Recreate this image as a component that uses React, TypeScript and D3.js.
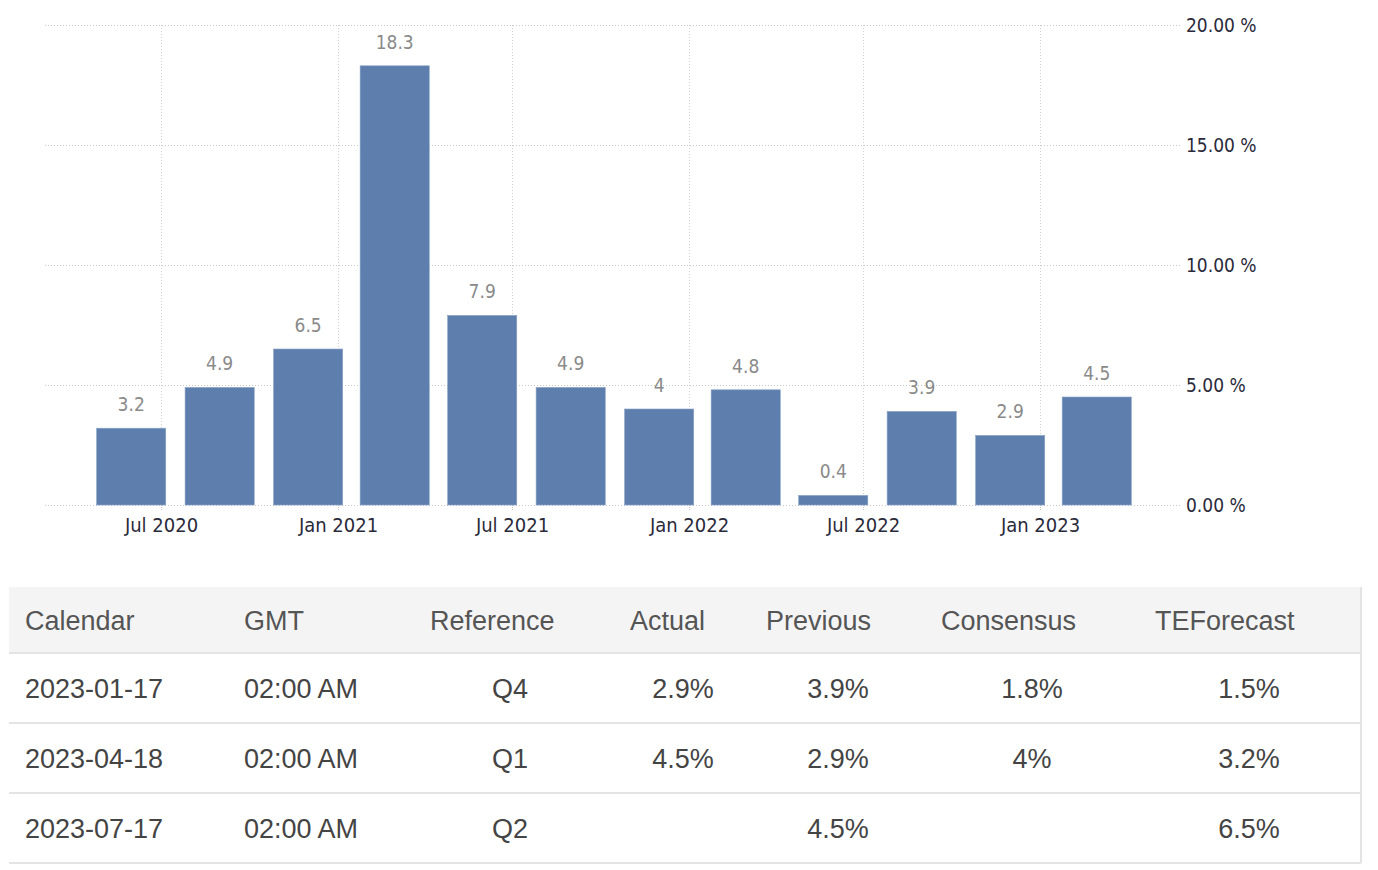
import React from "react";
import * as d3 from "d3";

// ---------- chart data ----------
const quarterEnds = [
  "2020-06-30", "2020-09-30", "2020-12-31", "2021-03-31",
  "2021-06-30", "2021-09-30", "2021-12-31", "2022-03-31",
  "2022-06-30", "2022-09-30", "2022-12-31", "2023-03-31",
];
const gdpValues = [3.2, 4.9, 6.5, 18.3, 7.9, 4.9, 4, 4.8, 0.4, 3.9, 2.9, 4.5];
const yTicks = [0, 5, 10, 15, 20];
const xTickDates = ["2020-07-01", "2021-01-01", "2021-07-01", "2022-01-01", "2022-07-01", "2023-01-01"];

// ---------- table data ----------
const tableHeaders = ["Calendar", "GMT", "Reference", "Actual", "Previous", "Consensus", "TEForecast"];
const calendarCol = ["2023-01-17", "2023-04-18", "2023-07-17"];
const gmtCol = ["02:00 AM", "02:00 AM", "02:00 AM"];
const referenceCol = ["Q4", "Q1", "Q2"];
const actualCol = ["2.9%", "4.5%", ""];
const previousCol = ["3.9%", "2.9%", "4.5%"];
const consensusCol = ["1.8%", "4%", ""];
const teForecastCol = ["1.5%", "3.2%", "6.5%"];

const W = 1378;
const H = 870;
const plot = { left: 45, right: 1180, top: 25, bottom: 505 };
const parse = d3.timeParse("%Y-%m-%d");
const chartFont = "'DejaVu Sans', sans-serif";
const tableFont = "'Liberation Sans', Arial, sans-serif";

export default function App() {
  const x = d3
    .scaleTime()
    .domain([parse("2020-07-01")!, parse("2023-01-01")!])
    .range([161, 1040]);
  const y = d3.scaleLinear().domain([0, 20]).range([plot.bottom, plot.top]);

  const barDates = quarterEnds.map((s) => d3.timeDay.offset(parse(s)!, -30));
  const quarterPx = x(d3.timeDay.offset(barDates[0], 91)) - x(barDates[0]);
  const barW = quarterPx * 0.79;
  const fmt = d3.timeFormat("%b %Y");

  // table layout
  const tbl = { left: 9, right: 1361, top: 587, headBottom: 653, rowH: 70 };
  const headerX = [25, 244, 430, 630, 766, 941, 1155];
  const cols: { vals: string[]; x: number; anchor: "start" | "middle" }[] = [
    { vals: calendarCol, x: 25, anchor: "start" },
    { vals: gmtCol, x: 244, anchor: "start" },
    { vals: referenceCol, x: 510, anchor: "middle" },
    { vals: actualCol, x: 683, anchor: "middle" },
    { vals: previousCol, x: 838, anchor: "middle" },
    { vals: consensusCol, x: 1032, anchor: "middle" },
    { vals: teForecastCol, x: 1249, anchor: "middle" },
  ];

  const chartText = { fontFamily: chartFont, fontStretch: "condensed" as const };

  return (
    <div style={{ position: "absolute", left: 0, top: 0 }}>
      <svg width={W} height={H} style={{ display: "block", background: "#fff" }}>
        {/* horizontal grid */}
        {yTicks.map((t) => (
          <line
            key={"h" + t}
            x1={plot.left}
            x2={plot.right}
            y1={y(t) + 0.5}
            y2={y(t) + 0.5}
            stroke="#c8c8c8"
            strokeWidth={1}
            strokeDasharray="1,2"
          />
        ))}
        {/* vertical grid + ticks */}
        {xTickDates.map((s) => {
          const xx = Math.round(x(parse(s)!)) + 0.5;
          return (
            <g key={"v" + s}>
              <line x1={xx} x2={xx} y1={plot.top} y2={plot.bottom} stroke="#d0d0d0" strokeDasharray="1,2" />
              <line x1={xx} x2={xx} y1={plot.bottom} y2={plot.bottom + 6} stroke="#c8c8c8" strokeDasharray="1,1" />
              <text x={xx} y={532} textAnchor="middle" fontSize={20} fill="#2a2a3a" style={chartText}>
                {fmt(parse(s)!)}
              </text>
            </g>
          );
        })}
        {/* y labels */}
        {yTicks.map((t) => (
          <text key={"yl" + t} x={1186} y={y(t) + 7} fontSize={19} fill="#2a2a3a" style={chartText}>
            {t.toFixed(2) + " %"}
          </text>
        ))}
        {/* bars */}
        {gdpValues.map((v, i) => {
          const cx = x(barDates[i]);
          return (
            <g key={"b" + i}>
              <rect
                x={cx - barW / 2}
                y={y(v)}
                width={barW}
                height={y(0) - y(v)}
                fill="#5e7fae"
                stroke="#8aa2c6"
                strokeWidth={0.6}
              />
              <text x={cx} y={y(v) - 17} textAnchor="middle" fontSize={19} fill="#8a8a8a" style={chartText}>
                {String(v)}
              </text>
            </g>
          );
        })}

        {/* table */}
        <rect x={tbl.left} y={tbl.top} width={tbl.right - tbl.left} height={tbl.headBottom - tbl.top} fill="#f4f4f4" />
        {[0, 1, 2, 3].map((r) => (
          <line
            key={"rl" + r}
            x1={tbl.left}
            x2={tbl.right}
            y1={tbl.headBottom + r * tbl.rowH}
            y2={tbl.headBottom + r * tbl.rowH}
            stroke="#e4e4e4"
            strokeWidth={2}
          />
        ))}
        <line x1={tbl.right} x2={tbl.right} y1={tbl.top} y2={tbl.headBottom + 3 * tbl.rowH} stroke="#e4e4e4" strokeWidth={2} />
        {tableHeaders.map((h, i) => (
          <text key={"th" + i} x={headerX[i]} y={630} fontFamily={tableFont} fontSize={27} fill="#555">
            {h}
          </text>
        ))}
        {cols.map((c, ci) =>
          c.vals.map((v, ri) => (
            <text
              key={"td" + ci + "-" + ri}
              x={c.x}
              y={tbl.headBottom + ri * tbl.rowH + 45}
              textAnchor={c.anchor}
              fontFamily={tableFont}
              fontSize={27}
              fill="#444"
            >
              {v}
            </text>
          ))
        )}
      </svg>
    </div>
  );
}
